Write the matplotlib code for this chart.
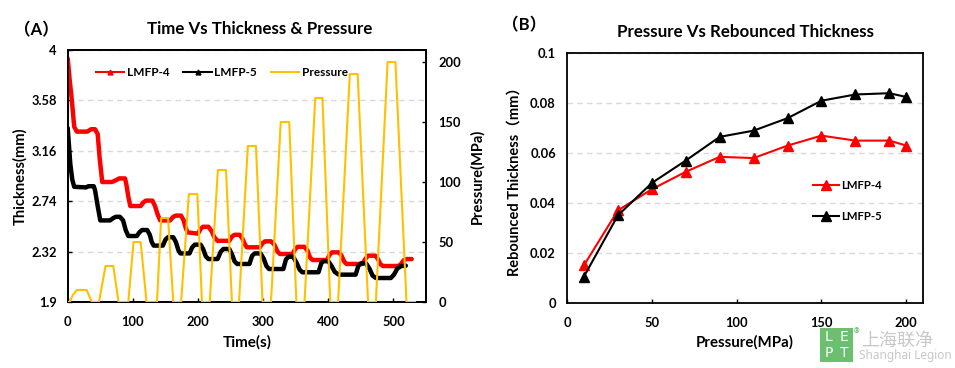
import matplotlib
matplotlib.use('Agg')
import matplotlib.pyplot as plt
from matplotlib.lines import Line2D
from matplotlib.patches import Rectangle

plt.rcParams['font.family'] = ['Lato', 'Noto Sans CJK SC', 'DejaVu Sans']
plt.rcParams['font.weight'] = 'bold'

# ---------------- data: panel A (time series) ----------------
t_lmfp4 = [0, 3, 6, 10, 14, 30, 36, 42, 46, 49, 53, 68, 74, 79, 88, 90, 93, 96,
           112, 116, 120, 130, 134, 138, 142, 157, 162, 166, 174, 178, 181, 184,
           200, 204, 208, 216, 221, 225, 230, 248, 252, 256, 264, 268, 272, 275,
           295, 299, 303, 312, 317, 322, 326, 345, 349, 353, 363, 368, 372, 376,
           398, 402, 406, 416, 420, 424, 428, 452, 457, 461, 472, 476, 480, 484,
           508, 512, 516, 520, 528]
th_lmfp4 = [3.93, 3.75, 3.60, 3.36, 3.32, 3.32, 3.34, 3.34, 3.30, 3.10, 2.90, 2.90,
            2.915, 2.93, 2.93, 2.88, 2.78, 2.70, 2.70, 2.73, 2.745, 2.745, 2.70,
            2.63, 2.58, 2.58, 2.61, 2.62, 2.62, 2.58, 2.52, 2.48, 2.47, 2.51, 2.527,
            2.527, 2.49, 2.44, 2.41, 2.41, 2.445, 2.46, 2.46, 2.43, 2.38, 2.356,
            2.356, 2.39, 2.406, 2.406, 2.38, 2.32, 2.30, 2.30, 2.34, 2.36, 2.36,
            2.33, 2.27, 2.25, 2.25, 2.295, 2.314, 2.314, 2.29, 2.24, 2.217, 2.217,
            2.26, 2.286, 2.286, 2.26, 2.215, 2.20, 2.20, 2.22, 2.25, 2.258, 2.258]

t_lmfp5 = [0, 2, 4, 7, 10, 28, 32, 40, 42, 46, 50, 65, 70, 74, 80, 85, 89, 93,
           106, 110, 114, 122, 126, 129, 132, 146, 150, 154, 162, 166, 170, 173,
           187, 191, 195, 204, 208, 212, 216, 230, 235, 239, 248, 252, 256, 260,
           279, 283, 287, 296, 301, 305, 309, 331, 335, 339, 346, 351, 356, 360,
           385, 389, 392, 400, 405, 410, 416, 442, 446, 450, 458, 463, 468, 473,
           496, 501, 506, 512, 519]
th_lmfp5 = [3.35, 3.20, 3.05, 2.92, 2.86, 2.855, 2.865, 2.865, 2.83, 2.70, 2.58,
            2.58, 2.60, 2.61, 2.61, 2.58, 2.50, 2.45, 2.45, 2.48, 2.50, 2.50, 2.46,
            2.40, 2.37, 2.37, 2.42, 2.44, 2.44, 2.40, 2.33, 2.305, 2.305, 2.355,
            2.378, 2.378, 2.34, 2.28, 2.258, 2.258, 2.32, 2.342, 2.342, 2.30, 2.24,
            2.217, 2.217, 2.285, 2.305, 2.305, 2.26, 2.20, 2.175, 2.175, 2.255,
            2.278, 2.278, 2.23, 2.17, 2.148, 2.148, 2.22, 2.24, 2.24, 2.20, 2.15,
            2.128, 2.128, 2.20, 2.222, 2.222, 2.18, 2.12, 2.10, 2.10, 2.13, 2.18,
            2.20, 2.203]

t_pressure = [0, 3, 8, 14, 29, 37, 48, 58, 70, 78, 93, 101, 112, 121, 137, 143.5,
              154, 162, 174, 186, 199, 206, 218, 230.5, 243, 252, 263, 276.5, 289,
              299, 312, 327, 340, 351, 363.5, 380, 391, 403, 415, 433, 445, 461,
              473, 491, 503, 520, 533]
pressure = [0, 0, 6, 10, 10, 0, 0, 30, 30, 0, 0, 50, 50, 0, 0, 70, 70, 0, 0, 90,
            90, 0, 0, 110, 110, 0, 0, 130, 130, 0, 0, 150, 150, 0, 0, 170, 170, 0,
            0, 190, 190, 0, 0, 200, 200, 0, 0]

thick_ticks = [1.9, 2.32, 2.74, 3.16, 3.58, 4]
thick_labels = ['1.9', '2.32', '2.74', '3.16', '3.58', '4']
time_ticks = [0, 100, 200, 300, 400, 500]
press_ticks = [0, 50, 100, 150, 200]

# ---------------- data: panel B ----------------
p_b = [10, 30, 50, 70, 90, 110, 130, 150, 170, 190, 200]
reb_lmfp4 = [0.015, 0.037, 0.0455, 0.0525, 0.0585, 0.058, 0.063, 0.067, 0.065, 0.065, 0.063]
reb_lmfp5 = [0.0105, 0.035, 0.048, 0.057, 0.0665, 0.069, 0.074, 0.081, 0.0835, 0.084, 0.0825]
reb_ticks = [0, 0.02, 0.04, 0.06, 0.08, 0.1]
reb_labels = ['0', '0.02', '0.04', '0.06', '0.08', '0.1']
pb_ticks = [0, 50, 100, 150, 200]

RED = '#FF0000'
BLACK = '#000000'
GOLD = '#FFC000'
GRID = '#D9D9D9'
FS = 9.3
LFS = 8.5

fig = plt.figure(figsize=(9.55, 3.68), dpi=100)

# ---------------- panel A ----------------
ax1 = fig.add_axes([0.0709, 0.1793, 0.3752, 0.6848])
ax1.plot(t_lmfp4, th_lmfp4, color=RED, lw=3.2, solid_capstyle='round', zorder=3)
ax1.plot(t_lmfp5, th_lmfp5, color=BLACK, lw=3.2, solid_capstyle='round', zorder=3)
ax1.set_xlim(0, 550)
ax1.set_ylim(1.9, 4)
ax1.set_yticks(thick_ticks)
ax1.set_yticklabels(thick_labels)
ax1.set_xticks(time_ticks)
ax1.yaxis.grid(True, ls=(0, (4, 3)), color=GRID, lw=1)
ax1.set_axisbelow(True)
ax1.tick_params(axis='both', direction='in', length=3, width=1, labelsize=FS, pad=8)
ax1.tick_params(axis='x', pad=10)
ax1.set_xlabel('Time(s)', fontsize=11, fontweight='bold', labelpad=5)
ax1.set_ylabel('Thickness(mm)', fontsize=10.5, fontweight='bold', labelpad=3)

ax1r = ax1.twinx()
ax1r.plot(t_pressure, pressure, color=GOLD, lw=1.5, zorder=4)
ax1r.set_ylim(0, 210)
ax1r.set_yticks(press_ticks)
ax1r.tick_params(axis='y', direction='in', length=3, width=1, labelsize=FS, pad=9)
ax1r.set_ylabel('Pressure(MPa)', fontsize=10.5, fontweight='bold', labelpad=6)

for a in (ax1, ax1r):
    for s in a.spines.values():
        s.set_linewidth(1.3)
        s.set_color('black')

handles = [Line2D([], [], color=RED, lw=1.5, marker='^', markersize=3.5),
           Line2D([], [], color=BLACK, lw=1.5, marker='^', markersize=3.5),
           Line2D([], [], color=GOLD, lw=1.5)]
ax1r.legend(handles, ['LMFP-4', 'LMFP-5', 'Pressure'], ncol=3, frameon=False,
            loc='center', bbox_to_anchor=(0.43, 0.909), fontsize=LFS,
            handlelength=2.4, handletextpad=0.2, columnspacing=1.2,
            borderpad=0, borderaxespad=0)

fig.text(260 / 955, 1 - 29 / 368, 'Time Vs Thickness & Pressure', ha='center',
         va='center', fontsize=12.2, fontweight='bold')
fig.text(36 / 955, 1 - 30 / 368, '（A）', ha='center', va='center',
         fontsize=12, fontweight='bold')

# ---------------- panel B ----------------
ax2 = fig.add_axes([0.5937, 0.1774, 0.3731, 0.6777])
ax2.plot(p_b, reb_lmfp4, color=RED, lw=1.5, marker='^', markersize=6.5, zorder=3,
         label='LMFP-4')
ax2.plot(p_b, reb_lmfp5, color=BLACK, lw=1.5, marker='^', markersize=6.5, zorder=3,
         label='LMFP-5')
ax2.set_xlim(0, 210)
ax2.set_ylim(0, 0.1)
ax2.set_yticks(reb_ticks)
ax2.set_yticklabels(reb_labels)
ax2.set_xticks(pb_ticks)
ax2.yaxis.grid(True, ls=(0, (4, 3)), color=GRID, lw=1)
ax2.set_axisbelow(True)
ax2.tick_params(axis='both', direction='in', length=3, width=1, labelsize=FS, pad=8)
ax2.tick_params(axis='x', pad=10)
ax2.tick_params(axis='y', length=0)
ax2.set_xlabel('Pressure(MPa)', fontsize=10.8, fontweight='bold', labelpad=5)
ax2.set_ylabel('Rebounced Thickness（mm）', fontsize=10.5, fontweight='bold', labelpad=6)
for s in ax2.spines.values():
    s.set_linewidth(1.3)
    s.set_color('black')
ax2.legend(frameon=False, loc='center left', bbox_to_anchor=(0.69, 0.408),
           fontsize=8.2, handlelength=2.3, handletextpad=0.2, labelspacing=1.8,
           borderpad=0, borderaxespad=0)

fig.text(745 / 955, 1 - 32 / 368, 'Pressure Vs Rebounced Thickness', ha='center',
         va='center', fontsize=12.2, fontweight='bold')
fig.text(524 / 955, 1 - 25 / 368, '（B）', ha='center', va='center',
         fontsize=12, fontweight='bold')

# ---------------- watermark logo ----------------
x0, y0, w, h = 820 / 955, (368 - 362) / 368, 33 / 955, 34 / 368
fig.patches.append(Rectangle((x0, y0), w, h, transform=fig.transFigure,
                             facecolor='#5DB860', edgecolor='none', alpha=0.9))
for i, letter in enumerate(['L', 'E', 'P', 'T']):
    cx = x0 + w * (0.27 if i % 2 == 0 else 0.73)
    cy = y0 + h * (0.73 if i < 2 else 0.27)
    fig.text(cx, cy, letter, color='white', ha='center', va='center',
             fontsize=10, fontweight='normal', family=['DejaVu Sans'])
fig.text(857 / 955, 1 - 331 / 368, '®', color='#5DB860', ha='center', va='center',
         fontsize=5)
fig.text(861 / 955, 1 - 341 / 368, '上海联净', color='#C8C8C8', ha='left', va='center',
         fontsize=13, fontweight='normal', family=['Noto Sans CJK SC'])
fig.text(859 / 955, 1 - 356 / 368, 'Shanghai Legion', color='#C8C8C8', ha='left',
         va='center', fontsize=8.5, fontweight='normal', family=['Noto Sans'])

fig.savefig('out.png', dpi=100)
